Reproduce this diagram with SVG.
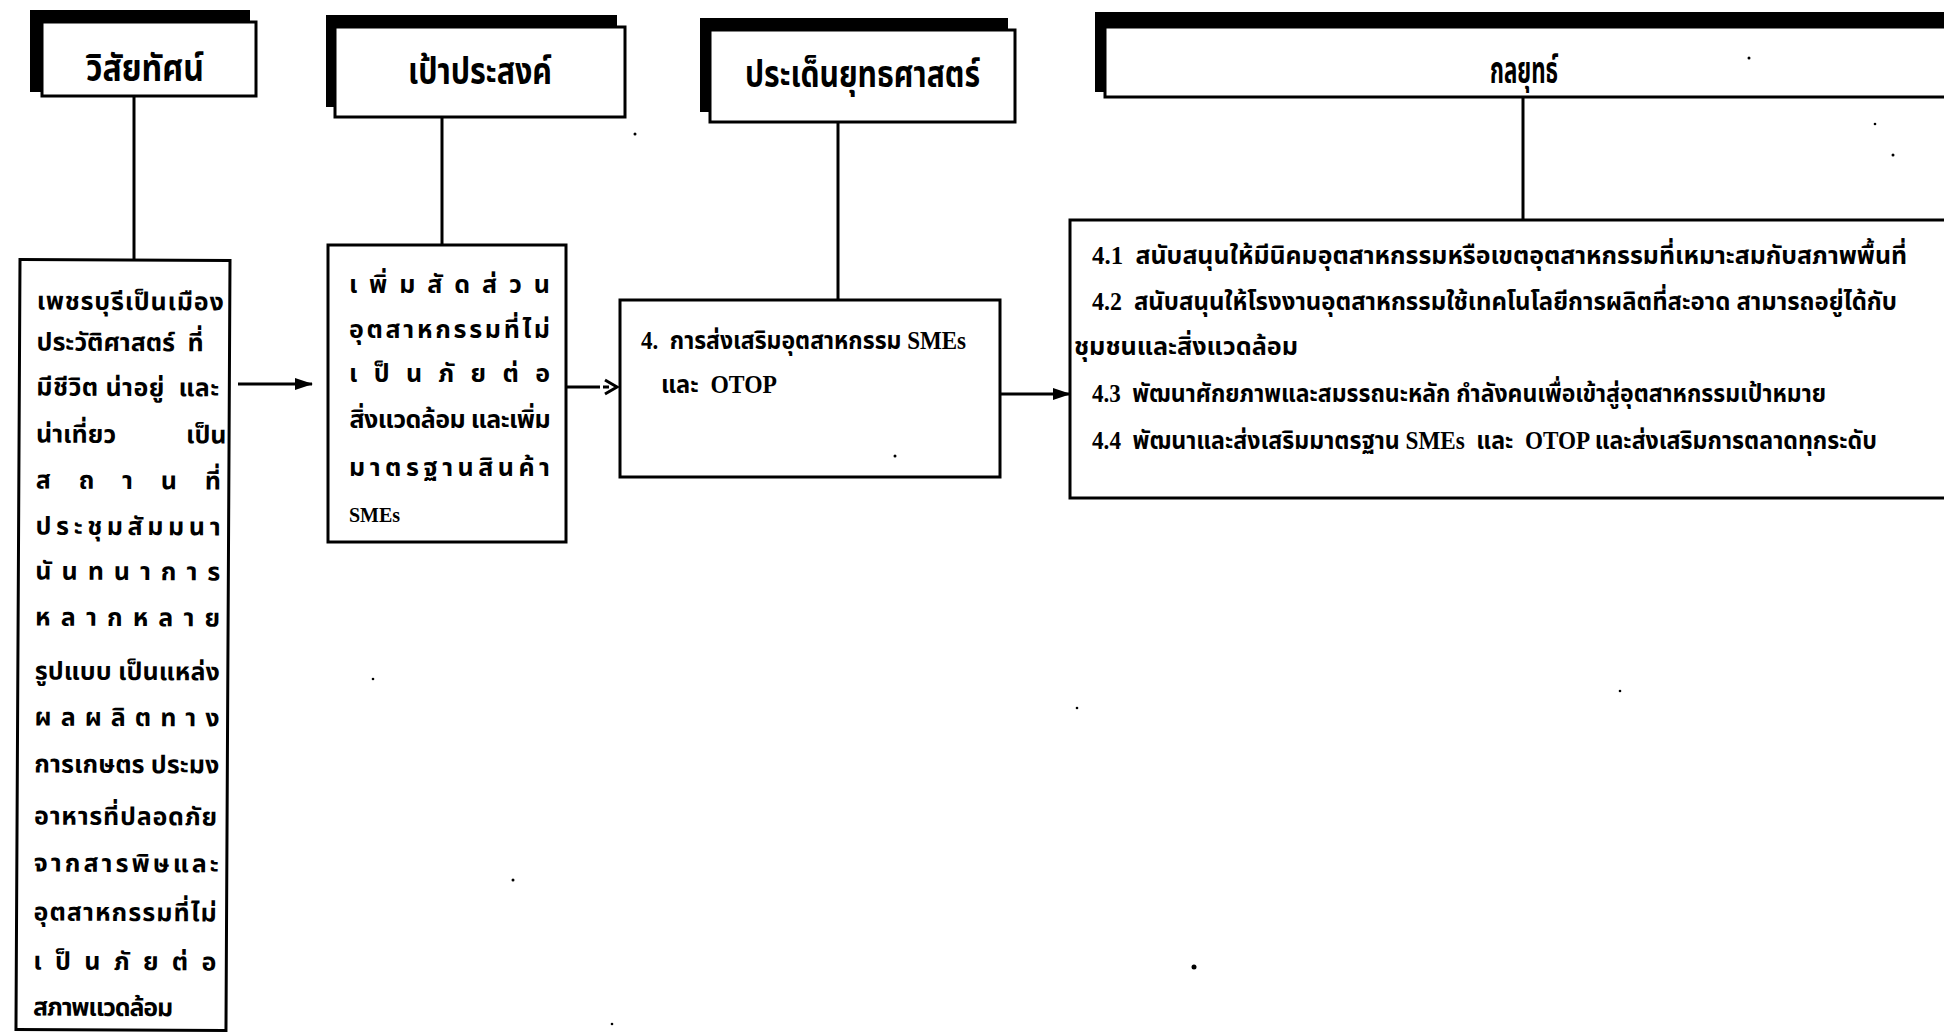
<svg xmlns="http://www.w3.org/2000/svg" width="1944" height="1033" viewBox="0 0 1944 1033">
  <style>
    .shadow { fill: #000; }
    .box { fill: #fff; stroke: #000; stroke-width: 3; }
    .link { stroke: #000; stroke-width: 3; fill: none; }
    .head { font-family: "Liberation Serif", "Noto Sans Thai", "Noto Serif Thai", "Loma", "Garuda", sans-serif; font-weight: bold; font-size: 37px; fill: #000; }
    .body { font-family: "Liberation Serif", "Noto Sans Thai", "Noto Serif Thai", "Loma", "Garuda", sans-serif; font-weight: bold; font-size: 25px; fill: #000; }
    .speck { fill: #000; }
  </style>
  <defs>
    <marker id="solid" viewBox="0 0 18 12" refX="17" refY="6" markerWidth="18" markerHeight="12" markerUnits="userSpaceOnUse" orient="auto">
      <path d="M0,0 L18,6 L0,12 Z" fill="#000"/>
    </marker>
  </defs>

  <rect width="1944" height="1033" fill="#fff"/>

  <!-- column headers -->
  <g id="head-vision">
    <rect class="shadow" x="30" y="10" width="220" height="82"/>
    <rect class="box" x="42" y="22" width="214" height="74"/>
    <text class="head" x="86" y="81" textLength="118" lengthAdjust="spacingAndGlyphs">วิสัยทัศน์</text>
  </g>
  <g id="head-goal">
    <rect class="shadow" x="326" y="15" width="291" height="92"/>
    <rect class="box" x="335" y="27" width="290" height="90"/>
    <text class="head" x="408" y="84" textLength="144" lengthAdjust="spacingAndGlyphs">เป้าประสงค์</text>
  </g>
  <g id="head-issue">
    <rect class="shadow" x="700" y="18" width="308" height="94"/>
    <rect class="box" x="710" y="30" width="305" height="92"/>
    <text class="head" x="745" y="87" textLength="235" lengthAdjust="spacingAndGlyphs">ประเด็นยุทธศาสตร์</text>
  </g>
  <g id="head-strategy">
    <rect class="shadow" x="1095" y="12" width="870" height="80"/>
    <rect class="box" x="1105" y="27" width="860" height="70"/>
    <text class="head" x="1490" y="83" textLength="68" lengthAdjust="spacingAndGlyphs">กลยุทธ์</text>
  </g>

  <!-- vision text block (slightly tilted) -->
  <g id="vision" transform="rotate(0.3 125 260)">
    <rect class="box" x="20" y="260" width="210" height="770"/>
    <g class="body" font-size="27">
      <text x="37" y="310" textLength="187" lengthAdjust="spacing">เพชรบุรีเป็นเมือง</text>
      <text x="37" y="351" textLength="167" lengthAdjust="spacing" xml:space="preserve">ประวัติศาสตร์  ที่</text>
      <text x="37" y="396" textLength="183" lengthAdjust="spacing" xml:space="preserve">มีชีวิต น่าอยู่  และ</text>
      <text x="37" y="443">น่าเที่ยว</text>
      <text x="187" y="443">เป็น</text>
      <text x="37" y="489" textLength="185" lengthAdjust="spacing">สถานที่</text>
      <text x="37" y="535" textLength="185" lengthAdjust="spacing">ประชุมสัมมนา</text>
      <text x="37" y="580" textLength="185" lengthAdjust="spacing">นันทนาการ</text>
      <text x="37" y="626" textLength="185" lengthAdjust="spacing">หลากหลาย</text>
      <text x="37" y="680" textLength="185" lengthAdjust="spacing">รูปแบบ เป็นแหล่ง</text>
      <text x="37" y="726" textLength="185" lengthAdjust="spacing">ผลผลิตทาง</text>
      <text x="37" y="773" textLength="185" lengthAdjust="spacing">การเกษตร ประมง</text>
      <text x="37" y="825" textLength="183" lengthAdjust="spacing">อาหารที่ปลอดภัย</text>
      <text x="37" y="872" textLength="185" lengthAdjust="spacing">จากสารพิษและ</text>
      <text x="37" y="921" textLength="183" lengthAdjust="spacing">อุตสาหกรรมที่ไม่</text>
      <text x="37" y="970" textLength="183" lengthAdjust="spacing">เป็นภัยต่อ</text>
      <text x="37" y="1016" textLength="140" lengthAdjust="spacing">สภาพแวดล้อม</text>
    </g>
  </g>

  <!-- goal -->
  <g id="goal">
    <rect class="box" x="328" y="245" width="238" height="297"/>
    <g class="body" font-size="27">
      <text x="349" y="293" textLength="201" lengthAdjust="spacing">เพิ่มสัดส่วน</text>
      <text x="349" y="338" textLength="201" lengthAdjust="spacing">อุตสาหกรรมที่ไม่</text>
      <text x="349" y="382" textLength="201" lengthAdjust="spacing">เป็นภัยต่อ</text>
      <text x="349" y="428" textLength="201" lengthAdjust="spacing">สิ่งแวดล้อม และเพิ่ม</text>
      <text x="349" y="476" textLength="201" lengthAdjust="spacing">มาตรฐานสินค้า</text>
      <text x="349" y="522" font-size="20">SMEs</text>
    </g>
  </g>

  <!-- strategic issue -->
  <g id="issue">
    <rect class="box" x="620" y="300" width="380" height="177"/>
    <g class="body">
      <text x="641" y="349" textLength="325" lengthAdjust="spacingAndGlyphs" xml:space="preserve">4.  การส่งเสริมอุตสาหกรรม SMEs</text>
      <text x="661" y="393" textLength="116" lengthAdjust="spacingAndGlyphs" xml:space="preserve">และ  OTOP</text>
    </g>
  </g>

  <!-- strategies -->
  <g id="strategy">
    <rect class="box" x="1070" y="220" width="900" height="278"/>
    <g class="body">
      <text x="1092" y="264" textLength="815" lengthAdjust="spacingAndGlyphs" xml:space="preserve">4.1  สนับสนุนให้มีนิคมอุตสาหกรรมหรือเขตอุตสาหกรรมที่เหมาะสมกับสภาพพื้นที่</text>
      <text x="1092" y="310" textLength="805" lengthAdjust="spacingAndGlyphs" xml:space="preserve">4.2  สนับสนุนให้โรงงานอุตสาหกรรมใช้เทคโนโลยีการผลิตที่สะอาด สามารถอยู่ได้กับ</text>
      <text x="1074" y="355" textLength="224" lengthAdjust="spacingAndGlyphs">ชุมชนและสิ่งแวดล้อม</text>
      <text x="1092" y="402" textLength="734" lengthAdjust="spacingAndGlyphs" xml:space="preserve">4.3  พัฒนาศักยภาพและสมรรถนะหลัก กำลังคนเพื่อเข้าสู่อุตสาหกรรมเป้าหมาย</text>
      <text x="1092" y="449" textLength="785" lengthAdjust="spacingAndGlyphs" xml:space="preserve">4.4  พัฒนาและส่งเสริมมาตรฐาน SMEs  และ  OTOP และส่งเสริมการตลาดทุกระดับ</text>
    </g>
  </g>

  <!-- connectors -->
  <g id="connectors">
    <line class="link" x1="134" y1="96" x2="134" y2="260"/>
    <line class="link" x1="442" y1="117" x2="442" y2="245"/>
    <line class="link" x1="838" y1="122" x2="838" y2="300"/>
    <line class="link" x1="1523" y1="97" x2="1523" y2="220"/>
    <line class="link" x1="238" y1="384" x2="312" y2="384" marker-end="url(#solid)"/>
    <line class="link" x1="566" y1="387" x2="600" y2="387"/>
    <line class="link" x1="603" y1="387" x2="609" y2="387" stroke-width="2"/>
    <polyline class="link" points="605,380 617,387 605,394" stroke-width="2.5"/>
    <line class="link" x1="1000" y1="394" x2="1070" y2="394" marker-end="url(#solid)"/>
  </g>

  <!-- print specks -->
  <g id="specks">
    <circle class="speck" cx="1194" cy="967" r="2.5"/>
    <circle class="speck" cx="513" cy="880" r="1.5"/>
    <circle class="speck" cx="373" cy="679" r="1.3"/>
    <circle class="speck" cx="1077" cy="708" r="1.3"/>
    <circle class="speck" cx="1620" cy="691" r="1.3"/>
    <circle class="speck" cx="612" cy="1024" r="1.3"/>
    <circle class="speck" cx="895" cy="456" r="1.5"/>
    <circle class="speck" cx="635" cy="134" r="1.5"/>
    <circle class="speck" cx="1893" cy="155" r="1.5"/>
    <circle class="speck" cx="1749" cy="58" r="1.5"/>
    <circle class="speck" cx="1875" cy="124" r="1.3"/>
  </g>
</svg>
